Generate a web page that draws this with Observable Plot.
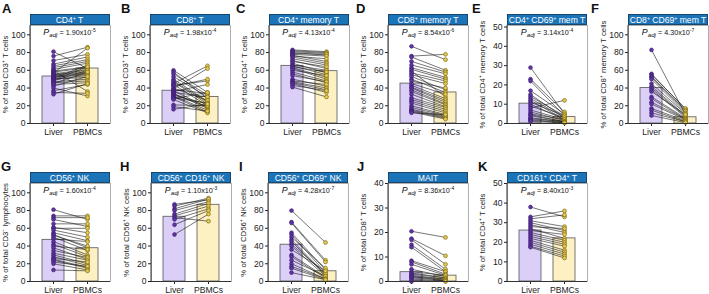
<!DOCTYPE html>
<html><head><meta charset="utf-8">
<script src="https://cdn.jsdelivr.net/npm/d3@7"></script>
<script src="https://cdn.jsdelivr.net/npm/@observablehq/plot@0.6"></script>
<style>
body{margin:0;background:#fff;}
#wrap{position:relative;width:709px;height:294px;overflow:hidden;font-family:"Liberation Sans",Arial,Helvetica,sans-serif;background:#fff;}
#wrap svg{overflow:visible;position:absolute;}
.hdr{position:absolute;height:11px;background:#1b73b8;color:#fff;font-size:8.6px;line-height:10px;text-align:center;box-sizing:border-box;border:0.8px solid #17466f;white-space:nowrap;overflow:visible;}
.hdr sup{font-size:5.2px;vertical-align:3px;line-height:0;}
.pv{position:absolute;font-size:7.2px;text-align:center;color:#111;white-space:nowrap;line-height:10px;}
.pv .P{font-size:8.8px;font-style:italic;}
.pv sub{font-size:6.2px;font-style:italic;vertical-align:-2px;line-height:0;}
.pv sup{font-size:5px;vertical-align:3px;line-height:0;}
.lt{position:absolute;font-size:13px;font-weight:bold;line-height:12px;color:#111;}
</style></head>
<body><div id="wrap"></div>
<script>
// ---- data ----
const letters = ["A","B","C","D","E","F","G","H","I","J","K"];
const titles = ["CD4<sup>+</sup> T","CD8<sup>+</sup> T","CD4<sup>+</sup> memory T","CD8<sup>+</sup> memory T",
  "CD4<sup>+</sup> CD69<sup>+</sup> mem T","CD8<sup>+</sup> CD69<sup>+</sup> mem T","CD56<sup>+</sup> NK",
  "CD56<sup>+</sup> CD16<sup>+</sup> NK","CD56<sup>+</sup> CD69<sup>+</sup> NK","MAIT","CD161<sup>+</sup> CD4<sup>+</sup> T"];
const yLabels = ["% of total CD3⁺ T cells","% of total CD3⁺ T cells","% of total CD4⁺ T cells","% of total CD8⁺ T cells",
  "% of total CD4⁺ memory T cells","% of total CD8⁺ memory T cells","% of total CD3⁻ lymphocytes",
  "% of total CD56⁺ NK cells","% of total CD56⁺ NK cells","% of total CD8⁺ T cells","% of total CD4⁺ T cells"];
const pMant = ["1.90","1.98","4.13","8.54","3.14","4.30","1.60","1.10","4.28","8.36","8.40"];
const pExp  = ["-5","-4","-4","-6","-4","-7","-4","-3","-7","-4","-3"];
const yTop  = [110.5,110.5,110.5,110.5,50.8,110.5,110.5,110.5,110.5,40,50];
const ticks100 = [0,20,40,60,80,100];
const ticks50 = [0,10,20,30,40,50];
const ticks40 = [0,10,20,30,40];
const yTicks = [ticks100,ticks100,ticks100,ticks100,ticks50,ticks100,ticks100,ticks100,ticks100,ticks40,ticks50];
const tissues = ["Liver","PBMCs"];
const barLiver = [53,37,65,45,10.3,40,47,73,41.5,3.8,26];
const barPbmc  = [62,30,59,35,3.3,7,37.5,86.5,11.5,2.4,22];

const liverA = [81,76,71,67,65,63,61,60,59,58,57,56,55,55,54,53,52,51,50,50,49,48,47,46,45,44,42,40,37,35,33];
const pbmcA  = [62,86,78,75,72,70,68,36,64,63,85,61,60,58,57,56,55,66,54,52,64,60,50,48,58,46,53,31,44,34,45];
const liverB = [60,58,56,53,50,48,47,45,44,43,42,40,39,38,37,36,35,34,33,32,31,30,29,28,27,21,19,16];
const pbmcB  = [35,28,32,30,25,24,22,65,20,48,50,26,62,34,18,44,30,17,19,22,15,13,23,35,12,20,14,22];
const liverC = [83,82,81,80,79,78,77,76,75,73,71,70,68,66,65,64,63,62,60,58,56,54,50,48,47,46,45,43,41];
const pbmcC  = [81,80,79,77,78,76,70,73,68,66,62,64,57,60,55,58,52,50,54,48,46,47,42,44,40,38,35,37,30];
const liverD = [87,76,75,70,66,63,61,59,57,55,53,50,48,45,43,41,40,38,36,33,29,27,25,23,20,18,16,15,14,13,12];
const pbmcD  = [72,78,60,58,56,52,50,30,48,45,38,35,40,33,28,26,24,22,21,19,18,16,14,12,10,9,8,7,6,5,10];
const liverE = [29,23,22,17,15,14,13,12,11,10,9,8,7,6,5,4.5,4,3,2.5,2,1.5,1];
const pbmcE  = [5,6,4,5,3,4,3,2,4,2,3,12,2,1.5,2,1,1,0.8,1,0.5,0.5,0.3];
const liverF = [83,56,55,53,52,50,45,42,40,38,36,30,28,24,22,17,15,12,9];
const pbmcF  = [10,16,17,15,14,12,11,9,8,7,10,6,5,5,4,3,2,2,1];
const liverG = [81,74,72,70,65,61,60,58,55,53,52,50,48,45,42,40,38,35,32,30,28,26,25,24,22,20,13];
const pbmcG  = [70,74,72,62,65,55,60,50,46,38,40,35,45,30,28,36,25,27,24,20,18,22,16,15,17,13,12];
const liverH = [87,85,82,80,76,74,72,70,64,53];
const pbmcH  = [92,94,93,90,88,85,68,82,80,76];
const liverI = [80,67,66,55,53,50,47,45,42,40,36,30,28,24,20,17,15,10];
const pbmcI  = [44,24,22,13,10,15,8,7,9,6,12,5,4,6,3,3,2,2];
const liverJ = [20.5,17.5,17,15,14,8.5,8,7,5,4,3.5,3,2.5,2,2,1.5,1,0.5,0];
const pbmcJ  = [18,10.5,7,5,4,4,3,2.5,2,2.5,1.5,1.5,1,1,0.5,0.5,0.3,0.2,0];
const liverK = [38,33,32,31,30,29,28,27,26,25,24,23,22,21,20,19,18,17.5];
const pbmcK  = [33,36,34,28,26,25,27,22,24,21,20,19,18,16,15,14,13,12];

const liverAll = [liverA,liverB,liverC,liverD,liverE,liverF,liverG,liverH,liverI,liverJ,liverK];
const pbmcAll  = [pbmcA,pbmcB,pbmcC,pbmcD,pbmcE,pbmcF,pbmcG,pbmcH,pbmcI,pbmcJ,pbmcK];

// ---- layout ----
const axisX  = [29.5,150,268.5,388,507,628,29.5,151,268,388,507];
const frameTop = [25,25,25,25,25,25,182.5,182.5,182.5,182.5,182.5];
const letterX = [2,121,236,356,472,591,1,120,239,357,478];
const FW = 80, FH = 98, ML = 30, MR = 4, MT = 25, MB = 17;
const FONT = '"Liberation Sans",Arial,Helvetica,sans-serif';

const wrap = document.getElementById("wrap");

function leftLine(index, scales, values, dims) {
  const l = document.createElementNS("http://www.w3.org/2000/svg","line");
  l.setAttribute("x1", dims.marginLeft); l.setAttribute("x2", dims.marginLeft);
  l.setAttribute("y1", dims.marginTop); l.setAttribute("y2", dims.height - dims.marginBottom);
  l.setAttribute("stroke", "#333"); l.setAttribute("stroke-width", 1);
  return l;
}

for (let i = 0; i < 11; i++) {
  const liver = liverAll[i], pbmc = pbmcAll[i];
  const rowsL = liver.map((v,k)=>({donor:k, tissue:"Liver", value:v}));
  const rowsP = pbmc.map((v,k)=>({donor:k, tissue:"PBMCs", value:v}));
  const rows = rowsL.concat(rowsP);
  const svg = Plot.plot({
    width: ML+FW+MR, height: MT+FH+MB,
    marginLeft: ML, marginRight: MR, marginTop: MT, marginBottom: MB,
    style: {background:"transparent", fontFamily: FONT, fontSize:"8.6px", color:"#222", overflow:"visible"},
    x: {domain: tissues, paddingInner: 0.35, paddingOuter: 0.32, label: null, tickSize: 3, tickPadding: 2},
    y: {domain: [0, yTop[i]], ticks: yTicks[i], label: null, tickSize: 3, tickPadding: 2},
    marks: [
      Plot.frame({stroke:"#9c9c9c", strokeWidth:0.8}),
      Plot.barY([{tissue:"Liver", value:barLiver[i]}], {x:"tissue", y:"value", fill:"#dccff7", stroke:"#555", strokeWidth:0.8}),
      Plot.barY([{tissue:"PBMCs", value:barPbmc[i]}], {x:"tissue", y:"value", fill:"#fdf1c4", stroke:"#555", strokeWidth:0.8}),
      Plot.line(rows, {x:"tissue", y:"value", z:"donor", stroke:"#1a1a1a", strokeWidth:0.6}),
      Plot.dot(rowsL, {x:"tissue", y:"value", r:1.9, fill:"#6136a6", stroke:"#36196a", strokeWidth:0.6}),
      Plot.dot(rowsP, {x:"tissue", y:"value", r:1.9, fill:"#e8cb4c", stroke:"#7a681a", strokeWidth:0.7}),
      Plot.ruleY([0], {stroke:"#333", strokeWidth:1}),
      leftLine,
      Plot.text([yLabels[i]], {text: d => d, frameAnchor:"left", textAnchor:"middle", lineAnchor:"middle", rotate:-90, dx:-25, fontSize:7.8, fill:"#222"})
    ]
  });
  svg.style.left = (axisX[i] - ML) + "px";
  svg.style.top = (frameTop[i] - MT) + "px";
  wrap.appendChild(svg);

  const h = document.createElement("div");
  h.className = "hdr";
  h.style.left = axisX[i] + "px"; h.style.top = (frameTop[i] - 11) + "px"; h.style.width = FW + "px";
  h.innerHTML = titles[i];
  wrap.appendChild(h);

  const p = document.createElement("div");
  p.className = "pv";
  p.style.left = axisX[i] + "px"; p.style.top = (frameTop[i] + 2) + "px"; p.style.width = FW + "px";
  p.innerHTML = '<span class="P">P</span><sub>adj</sub> = ' + pMant[i] + 'x10<sup>' + pExp[i] + '</sup>';
  wrap.appendChild(p);

  const l = document.createElement("div");
  l.className = "lt";
  l.style.left = letterX[i] + "px"; l.style.top = (frameTop[i] - 22) + "px";
  l.textContent = letters[i];
  wrap.appendChild(l);
}
</script>
</body></html>
